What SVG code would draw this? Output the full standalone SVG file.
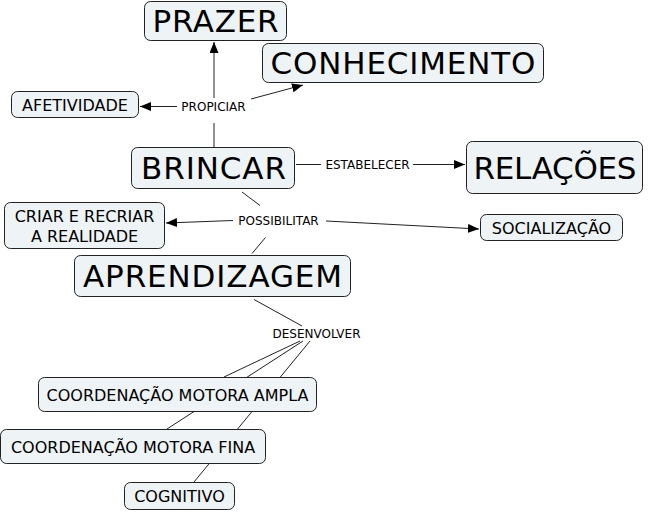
<svg xmlns="http://www.w3.org/2000/svg" width="656" height="512" viewBox="0 0 656 512">
<style>
.box{fill:#eef3f5;stroke:#222;stroke-width:1}
.big{font-family:"DejaVu Sans",Verdana,sans-serif;font-size:31px;fill:#000;text-anchor:middle}
.mid{font-family:"DejaVu Sans",Verdana,sans-serif;font-size:16px;fill:#000;text-anchor:middle}
.lbl{font-family:"DejaVu Sans",Verdana,sans-serif;font-size:12px;fill:#000;text-anchor:middle}
.ln{stroke:#222;stroke-width:1;fill:none}
.arr{marker-end:url(#ah)}
</style>
<defs>
<marker id="ah" markerUnits="userSpaceOnUse" markerWidth="12" markerHeight="10" refX="11" refY="4.5" orient="auto">
<path d="M0,0 L11,4.5 L0,9 z" fill="#000"/>
</marker>
</defs>
<g id="connectors">
<line class="ln" x1="214" y1="147" x2="214" y2="123"/>
<line class="ln arr" x1="214" y1="98" x2="214" y2="42"/>
<line class="ln arr" x1="177" y1="106.5" x2="140" y2="106.5"/>
<line class="ln arr" x1="251" y1="99" x2="303" y2="85"/>
<line class="ln" x1="296" y1="164.5" x2="321" y2="164.5"/>
<line class="ln arr" x1="413" y1="164.5" x2="465" y2="164.5"/>
<line class="ln" x1="242" y1="192" x2="260" y2="205.5"/>
<line class="ln arr" x1="233" y1="220.5" x2="166" y2="223"/>
<line class="ln arr" x1="326" y1="221" x2="479" y2="229"/>
<line class="ln" x1="265.5" y1="237.5" x2="252" y2="253.5"/>
<line class="ln" x1="254" y1="299.5" x2="302" y2="326"/>
<line class="ln" x1="300" y1="341" x2="224" y2="377"/>
<line class="ln" x1="303" y1="341" x2="167" y2="429"/>
<line class="ln" x1="310" y1="341" x2="194" y2="482"/>
</g>
<g id="lbl-propiciar"><text class="lbl" x="213.5" y="111">PROPICIAR</text></g>
<g id="lbl-estabelecer"><text class="lbl" x="367.5" y="169">ESTABELECER</text></g>
<g id="lbl-possibilitar"><text class="lbl" x="278.5" y="224.5">POSSIBILITAR</text></g>
<g id="lbl-desenvolver"><text class="lbl" x="316.5" y="337.5">DESENVOLVER</text></g>
<g id="prazer"><rect class="box" x="144.5" y="1.5" width="142" height="39" rx="6"/><text class="big" x="215.5" y="32" textLength="126">PRAZER</text></g>
<g id="conhecimento"><rect class="box" x="262.5" y="43.5" width="281" height="39" rx="6"/><text class="big" x="403" y="74" textLength="265">CONHECIMENTO</text></g>
<g id="afetividade"><rect class="box" x="11.5" y="91.5" width="127" height="26" rx="6"/><text class="mid" x="75" y="110.5">AFETIVIDADE</text></g>
<g id="brincar"><rect class="box" x="131.5" y="147.5" width="163" height="41" rx="6"/><text class="big" x="213.5" y="179" textLength="145">BRINCAR</text></g>
<g id="relacoes"><rect class="box" x="466.5" y="141.5" width="176" height="52" rx="6"/><text class="big" x="555" y="178.5" textLength="163">RELAÇÕES</text></g>
<g id="criar"><rect class="box" x="4.5" y="202.5" width="160" height="46" rx="6"/><text class="mid" x="84.5" y="222">CRIAR E RECRIAR</text><text class="mid" x="84.5" y="242">A REALIDADE</text></g>
<g id="socializacao"><rect class="box" x="480.5" y="214.5" width="142" height="26" rx="6"/><text class="mid" x="551.5" y="233.5">SOCIALIZAÇÃO</text></g>
<g id="aprendizagem"><rect class="box" x="74.5" y="255.5" width="276" height="41" rx="6"/><text class="big" x="212.5" y="287" textLength="259">APRENDIZAGEM</text></g>
<g id="cma"><rect class="box" x="38.5" y="377.5" width="278" height="34" rx="6"/><text class="mid" x="177.5" y="400.5">COORDENAÇÃO MOTORA AMPLA</text></g>
<g id="cmf"><rect class="box" x="0.5" y="429.5" width="265" height="34" rx="6"/><text class="mid" x="133" y="452.5">COORDENAÇÃO MOTORA FINA</text></g>
<g id="cognitivo"><rect class="box" x="124.5" y="482.5" width="110" height="27" rx="6"/><text class="mid" x="179.5" y="502">COGNITIVO</text></g>
</svg>
